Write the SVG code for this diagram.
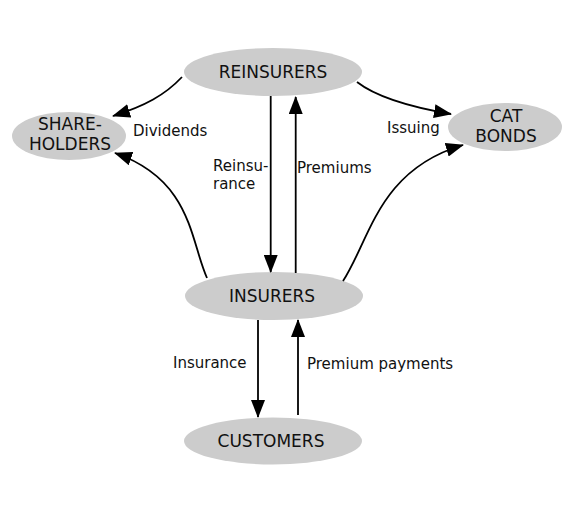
<svg xmlns="http://www.w3.org/2000/svg" width="582" height="524" viewBox="0 0 582 524">
<style>
.node{fill:#cccccc;stroke:none}
.nl{font-family:"DejaVu Sans",sans-serif;font-size:17px;fill:#111;text-anchor:middle}
.el{font-family:"DejaVu Sans",sans-serif;font-size:15px;fill:#111}
.edge{fill:none;stroke:#000;stroke-width:1.8;marker-end:url(#ah)}
</style>
<defs>
<marker id="ah" markerUnits="userSpaceOnUse" markerWidth="18" markerHeight="14" refX="17" refY="7" orient="auto">
<path d="M0,0 L18,7 L0,14 z" fill="#000"/>
</marker>
</defs>
<rect width="582" height="524" fill="#fff"/>
<g id="reinsurers"><ellipse class="node" cx="273" cy="72" rx="89" ry="24"/><text class="nl" x="273" y="78">REINSURERS</text></g>
<g id="shareholders"><ellipse class="node" cx="69" cy="136" rx="57" ry="24"/><text class="nl" x="70" y="130">SHARE-</text><text class="nl" x="70" y="150">HOLDERS</text></g>
<g id="catbonds"><ellipse class="node" cx="505" cy="127" rx="57" ry="24"/><text class="nl" x="506" y="122">CAT</text><text class="nl" x="506" y="142">BONDS</text></g>
<g id="insurers"><ellipse class="node" cx="274" cy="296" rx="89" ry="24"/><text class="nl" x="272" y="302">INSURERS</text></g>
<g id="customers"><ellipse class="node" cx="273" cy="441" rx="89" ry="23.5"/><text class="nl" x="271" y="447">CUSTOMERS</text></g>
<g id="connectors">
<path class="edge" d="M182,77 C165,95 145,106 113,116"/>
<path class="edge" d="M357,82 C375,96 410,107 451,114"/>
<path class="edge" d="M207,278 C190,240 192,180 115,153"/>
<path class="edge" d="M343,281 C370,240 378,170 463,145"/>
<path class="edge" d="M270.7,96 L270.7,272"/>
<path class="edge" d="M295.7,273 L295.7,97"/>
<path class="edge" d="M258,320 L258,417"/>
<path class="edge" d="M298,415 L298,320"/>
</g>
<g id="labels">
<text class="el" x="133" y="136">Dividends</text>
<text class="el" x="387" y="133">Issuing</text>
<text class="el" x="213" y="171">Reinsu-</text>
<text class="el" x="213" y="189">rance</text>
<text class="el" x="297" y="173">Premiums</text>
<text class="el" x="173" y="368">Insurance</text>
<text class="el" x="307" y="369">Premium payments</text>
</g>
</svg>
